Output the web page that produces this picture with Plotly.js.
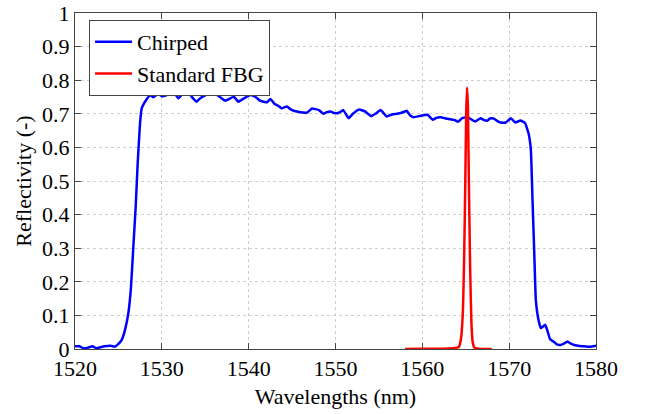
<!DOCTYPE html>
<html><head><meta charset="utf-8">
<script src="https://cdn.plot.ly/plotly-3.0.1.min.js"></script>
<style>html,body{margin:0;padding:0;background:#fff}#chart{width:645px;height:414px}</style>
</head><body><div id="chart"></div>
<script>
// Chirped FBG reflectivity spectrum
const chirpedWl = [1520,1520.5,1521,1521.5,1522,1522.5,1522.9,1523.4,1524.0,1524.6,1525.0,1525.38,1525.76,1526.14,1526.45,1526.72,1526.99,1527.22,1527.49,1527.68,1527.95,1528.2,1528.64,1529.0,1529.6,1530.0,1530.5,1531.1,1531.5,1531.9,1532.4,1532.9,1533.4,1534.0,1534.5,1535.0,1535.6,1536.3,1536.8,1537.3,1537.8,1538.3,1538.8,1539.4,1540.2,1540.8,1541.3,1541.7,1542.1,1542.5,1543.0,1543.4,1543.8,1544.4,1544.8,1545.2,1545.7,1546.2,1546.7,1547.3,1548.1,1548.6,1549.0,1549.4,1549.9,1550.4,1550.9,1551.5,1552.0,1552.7,1553.4,1554.1,1554.6,1555.2,1555.9,1556.5,1557.1,1557.6,1558.2,1558.6,1559.0,1559.8,1560.6,1561.2,1561.6,1562.1,1562.9,1563.7,1564.1,1564.6,1565.2,1565.6,1566.1,1566.7,1567.1,1567.5,1567.8,1568.2,1568.6,1569.0,1569.6,1570.2,1570.7,1571.3,1571.84,1572.23,1572.5,1572.69,1572.88,1573.07,1573.38,1573.65,1573.9,1574.15,1574.4,1574.7,1575.1,1575.5,1575.9,1576.3,1576.7,1577.1,1577.5,1578.1,1578.7,1579.3,1580];
const chirpedR = [0.008,0.008,0.002,0.004,0.008,0.002,0.005,0.008,0.01,0.007,0.015,0.027,0.057,0.106,0.185,0.305,0.424,0.553,0.672,0.716,0.731,0.741,0.756,0.749,0.760,0.752,0.755,0.771,0.76,0.746,0.76,0.769,0.752,0.736,0.748,0.755,0.761,0.757,0.748,0.739,0.745,0.751,0.736,0.745,0.756,0.75,0.739,0.736,0.734,0.744,0.729,0.724,0.716,0.722,0.714,0.709,0.706,0.704,0.703,0.716,0.711,0.700,0.705,0.707,0.702,0.703,0.711,0.687,0.700,0.713,0.707,0.693,0.700,0.711,0.692,0.698,0.700,0.703,0.709,0.695,0.690,0.694,0.697,0.682,0.688,0.690,0.685,0.682,0.676,0.687,0.690,0.684,0.677,0.687,0.681,0.680,0.686,0.686,0.679,0.674,0.674,0.687,0.674,0.680,0.672,0.642,0.592,0.443,0.295,0.146,0.086,0.062,0.067,0.072,0.055,0.030,0.022,0.014,0.012,0.016,0.022,0.016,0.012,0.009,0.008,0.007,0.01];

// Standard FBG reflectivity spectrum
const fbgWl = [1558.0,1560.0,1562.0,1563.5,1564.2,1564.45,1564.65,1564.8,1564.95,1565.05,1565.15,1565.25,1565.35,1565.5,1565.65,1565.8,1566.0,1566.4,1568.0];
const fbgR  = [0.0,0.001,0.001,0.002,0.006,0.03,0.10,0.25,0.50,0.70,0.778,0.72,0.52,0.25,0.08,0.02,0.004,0.001,0.0];

const seriesNames = ['Chirped','Standard FBG'];
const seriesColors = ['#0000ff','#ff0000'];

const xTickVals = [1520,1530,1540,1550,1560,1570,1580];
const yTickVals = [0,0.1,0.2,0.3,0.4,0.5,0.6,0.7,0.8,0.9,1];
const yTickText = ['0','0.1','0.2','0.3','0.4','0.5','0.6','0.7','0.8','0.9','1'];

const fontFam = "'Liberation Serif', 'Times New Roman', serif";

const traces = [
  {x: chirpedWl, y: chirpedR, type:'scatter', mode:'lines', name: seriesNames[0],
   line:{color: seriesColors[0], width:2.5, shape:'spline', smoothing:0.3}},
  {x: fbgWl, y: fbgR, type:'scatter', mode:'lines', name: seriesNames[1],
   line:{color: seriesColors[1], width:2.5, shape:'spline', smoothing:0.5}}
];

const axisCommon = {
  showline:true, mirror:'ticks', linecolor:'#444', linewidth:1,
  ticks:'inside', ticklen:6, tickcolor:'#444',
  showgrid:true, gridcolor:'#cfcfcf', griddash:'dot', gridwidth:1,
  zeroline:false, tickfont:{family:fontFam, size:22, color:'#000'}
};

const layout = {
  width:645, height:414,
  margin:{l:75, r:49, t:13, b:65},
  paper_bgcolor:'#fff', plot_bgcolor:'#fff',
  font:{family:fontFam, size:22, color:'#000'},
  xaxis: Object.assign({}, axisCommon, {
    range:[1520,1580], tickvals:xTickVals, ticktext:xTickVals.map(String),
    ticklabelstandoff:0,
    title:{text:'Wavelengths (nm)', font:{family:fontFam, size:22}, standoff:8}
  }),
  yaxis: Object.assign({}, axisCommon, {
    range:[0,1], tickvals:yTickVals, ticktext:yTickText,
    ticklabelstandoff:0,
    title:{text:'Reflectivity (-)', font:{family:fontFam, size:22}, standoff:4}
  }),
  showlegend:true,
  legend:{x:0.027, y:0.979, xanchor:'left', yanchor:'top',
    bgcolor:'#fff', bordercolor:'#444', borderwidth:1, itemwidth:37,
    font:{family:fontFam, size:22, color:'#000'}, tracegroupgap:0}
};

Plotly.newPlot('chart', traces, layout, {displayModeBar:false, staticPlot:true});
</script>
</body></html>
